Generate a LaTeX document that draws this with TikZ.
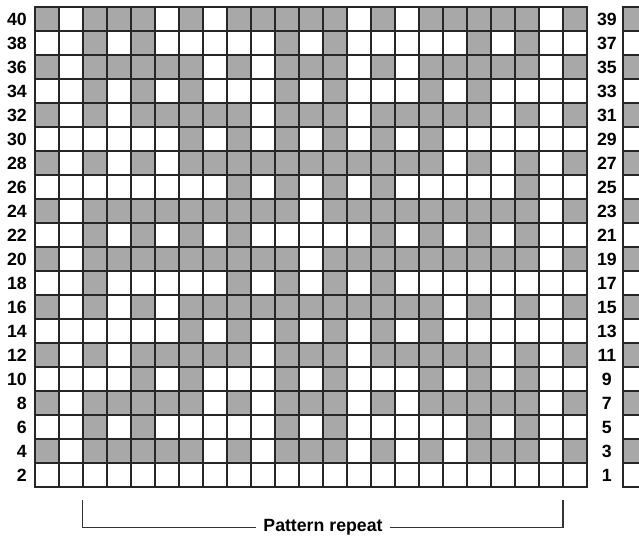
\documentclass[tikz,border=0pt]{standalone}
\usepackage{fontspec}
\newfontfamily\chartfont{Liberation Sans}
\definecolor{cellgray}{RGB}{168,168,168}
% shade the listed columns of one chart row
\newcommand{\shaderow}[2]{%
    \foreach \c in {#2} {\fill[dark] (\c-1,#1-1) rectangle (\c,#1);}%
}
\begin{document}
\begin{tikzpicture}[
        x=0.5cm, y=0.5cm,
        every node/.style={font=\chartfont\bfseries\fontsize{10.5}{12}\selectfont},
        gridline/.style={draw=black!85, line width=0.8pt, step={(1,1)}},
        border/.style={draw=black!85, line width=1pt},
        dark/.style={fill=cellgray},
        rowlabel/.style={inner sep=0pt},
        bracket/.style={draw=black!80, line width=0.6pt},
        repeatlabel/.style={inner sep=4pt}
    ]
    \clip (-1.458,-2.0) rectangle (25.167,20.292);

    % Shaded cells
    \shaderow{20}{1,3,4,5,7,9,10,11,12,13,15,17,18,19,20,21,23}
    \shaderow{19}{3,5,11,13,19,21}
    \shaderow{18}{1,3,4,5,6,7,9,11,12,13,15,17,18,19,20,21,23}
    \shaderow{17}{3,5,7,11,13,17,19}
    \shaderow{16}{1,3,5,6,7,8,9,11,12,13,15,16,17,18,19,21,23}
    \shaderow{15}{7,9,11,13,15,17}
    \shaderow{14}{1,3,5,7,8,9,10,11,12,13,14,15,16,17,19,21,23}
    \shaderow{13}{9,11,13,15,21}
    \shaderow{12}{1,3,4,5,6,7,8,9,10,11,13,14,15,16,17,18,19,20,21,23}
    \shaderow{11}{3,5,7,9,15,17,19,21}
    \shaderow{10}{1,3,4,5,6,7,8,9,10,11,13,14,15,16,17,18,19,20,21,23}
    \shaderow{9}{3,9,11,13,15}
    \shaderow{8}{1,3,5,7,8,9,10,11,12,13,14,15,16,17,19,21,23}
    \shaderow{7}{7,9,11,13,15,17}
    \shaderow{6}{1,3,5,6,7,8,9,11,12,13,15,16,17,18,19,21,23}
    \shaderow{5}{5,7,11,13,17,19,21}
    \shaderow{4}{1,3,4,5,6,7,9,11,12,13,15,17,18,19,20,21,23}
    \shaderow{3}{3,5,11,13,19,21}
    \shaderow{2}{1,3,4,5,6,7,9,11,12,13,15,17,19,20,21,23}

    % Chart grid
    \draw[gridline] (0,0) grid (23,20);
    \draw[border] (0,0) rectangle (23,20);

    % Row numbers
    \foreach \i in {1,...,20} {
        \pgfmathtruncatemacro{\even}{2*\i}
        \pgfmathtruncatemacro{\odd}{2*\i-1}
        \node[rowlabel, anchor=east] (l\i) at (-0.33,\i-0.5) {\even};
        \node[rowlabel] (r\i) at (23.83,\i-0.5) {\odd};
    }

    % Next chart, cut at the edge
    \foreach \i in {1,3,...,19} {
        \fill[dark] (24.5,\i) rectangle (25.5,\i+1);
    }
    \begin{scope}[shift={(24.5,0)}]
        \draw[gridline] (0,0) grid (1,20);
        \draw[border] (0,0) rectangle (1,20);
    \end{scope}

    % Pattern repeat bracket
    \node[repeatlabel] (rep) at (12,-1.67) {Pattern repeat};
    \coordinate (repL) at (2,-0.54);
    \coordinate (repR) at (22,-0.54);
    \draw[bracket] (repL) |- (rep.west);
    \draw[bracket] (rep.east) -| (repR);

\end{tikzpicture}
\end{document}
